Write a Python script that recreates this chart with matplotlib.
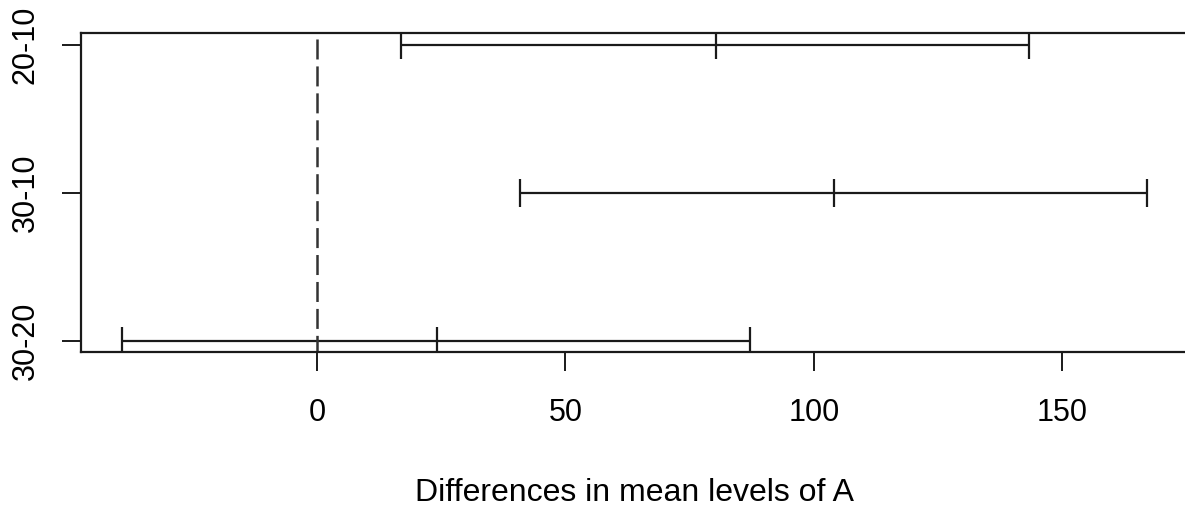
import matplotlib
matplotlib.use("Agg")
import matplotlib.pyplot as plt

comparisons = ["20-10", "30-10", "30-20"]
diff = [80.3, 104.0, 24.1]
lwr = [16.9, 40.8, -39.2]
upr = [143.3, 167.0, 87.1]
xticks = [0, 50, 100, 150]
xlabel = "Differences in mean levels of A"

plt.rcParams['font.family'] = ['Liberation Sans', 'DejaVu Sans']
plt.rcParams['lines.scale_dashes'] = False

W, H = 1185, 508
fig = plt.figure(figsize=(W / 100, H / 100), dpi=100)
left, right, top, bottom = 81, 1189, 33, 352
ax = fig.add_axes([left / W, 1 - bottom / H, (right - left) / W, (bottom - top) / H])

n = len(comparisons)
ypos = [n - i for i in range(n)]
col = "#1a1a1a"
for y, d, lo, hi in zip(ypos, diff, lwr, upr):
    ax.plot([lo, hi], [y, y], color=col, lw=1.6, solid_capstyle="butt")
    ax.plot([lo, d, hi], [y, y, y], linestyle="none", marker="|", markersize=20,
            markeredgewidth=1.6, color=col)

# dashed reference line at zero, drawn from top to bottom
ax.plot([0, 0], [1, 0], transform=ax.get_xaxis_transform(), color="#333333",
        lw=1.8, linestyle=(15.1, (14.4, 5.0)), dash_capstyle="butt")

ax.set_xlim(-47.5, 175.5)
ax.set_ylim(1 - 11 / 148, n + 12 / 148)
ax.set_xticks(xticks)
ax.set_xticklabels([str(t) for t in xticks])
ax.set_yticks(ypos)
ax.set_yticklabels(comparisons, rotation=90, va="center")
ax.tick_params(axis="both", length=14, width=1.4, color=col, labelsize=22)
ax.tick_params(axis="x", pad=19)
ax.tick_params(axis="y", pad=15)
for s in ax.spines.values():
    s.set_linewidth(1.6)
    s.set_color(col)
ax.set_xlabel(xlabel, fontsize=23, labelpad=36)
fig.savefig("out.png", dpi=100)
